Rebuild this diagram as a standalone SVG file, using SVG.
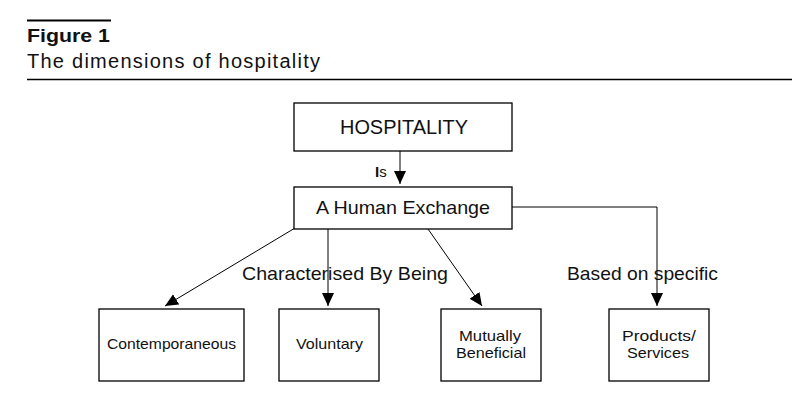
<svg xmlns="http://www.w3.org/2000/svg" width="807" height="410" viewBox="0 0 807 410">
<style>
.box{fill:#fff;stroke:#000;stroke-width:1.3}
.t{font-family:"Liberation Sans",Arial,sans-serif;fill:#111}
.ln{stroke:#000;stroke-width:1;fill:none}
</style>
<defs>
<marker id="ah" viewBox="0 0 13 12" refX="13" refY="6" markerWidth="13" markerHeight="12" markerUnits="userSpaceOnUse" orient="auto">
<path d="M0,0 L13,6 L0,12 Z" fill="#000"/>
</marker>
</defs>
<rect width="807" height="410" fill="#fff"/>
<g id="header">
<line x1="27" y1="20.5" x2="111" y2="20.5" stroke="#000" stroke-width="2.2"/>
<text class="t" x="27" y="42" font-size="18.5" font-weight="bold" textLength="83" lengthAdjust="spacingAndGlyphs">Figure 1</text>
<text class="t" x="27" y="68" font-size="20" textLength="293" lengthAdjust="spacing">The dimensions of hospitality</text>
<line x1="27" y1="79.5" x2="792" y2="79.5" stroke="#000" stroke-width="1.3"/>
</g>
<g id="connectors">
<line class="ln" x1="400" y1="151" x2="400" y2="184" marker-end="url(#ah)"/>
<line class="ln" x1="295" y1="228" x2="165" y2="306" marker-end="url(#ah)"/>
<line class="ln" x1="328" y1="229" x2="328" y2="306" marker-end="url(#ah)"/>
<line class="ln" x1="428" y1="229" x2="482" y2="306" marker-end="url(#ah)"/>
<polyline class="ln" points="512,207 657,207 657,306" marker-end="url(#ah)"/>
<text class="t" x="375" y="177" font-size="15"><tspan font-weight="bold">I</tspan>s</text>
<text class="t" x="242" y="280" font-size="19" textLength="206" lengthAdjust="spacingAndGlyphs">Characterised By Being</text>
<text class="t" x="567" y="280" font-size="19" textLength="151" lengthAdjust="spacingAndGlyphs">Based on specific</text>
</g>
<g id="hospitality">
<rect class="box" x="294" y="103" width="218" height="48"/>
<text class="t" x="340" y="134" font-size="19.5" textLength="128" lengthAdjust="spacingAndGlyphs">HOSPITALITY</text>
</g>
<g id="human-exchange">
<rect class="box" x="294" y="187" width="218" height="42"/>
<text class="t" x="316" y="214" font-size="18.5" textLength="174" lengthAdjust="spacingAndGlyphs">A Human Exchange</text>
</g>
<g id="contemporaneous">
<rect class="box" x="99" y="309" width="145" height="72"/>
<text class="t" x="107" y="349" font-size="15" textLength="129" lengthAdjust="spacingAndGlyphs">Contemporaneous</text>
</g>
<g id="voluntary">
<rect class="box" x="279" y="309" width="100" height="72"/>
<text class="t" x="296" y="349" font-size="15" textLength="67" lengthAdjust="spacingAndGlyphs">Voluntary</text>
</g>
<g id="mutually-beneficial">
<rect class="box" x="441" y="309" width="100" height="72"/>
<text class="t" x="459" y="341" font-size="15" textLength="62" lengthAdjust="spacingAndGlyphs">Mutually</text>
<text class="t" x="456" y="358" font-size="15" textLength="70" lengthAdjust="spacingAndGlyphs">Beneficial</text>
</g>
<g id="products-services">
<rect class="box" x="609" y="309" width="100" height="72"/>
<text class="t" x="622" y="341" font-size="15" textLength="74" lengthAdjust="spacingAndGlyphs">Products/</text>
<text class="t" x="627" y="358" font-size="15" textLength="62" lengthAdjust="spacingAndGlyphs">Services</text>
</g>
</svg>
